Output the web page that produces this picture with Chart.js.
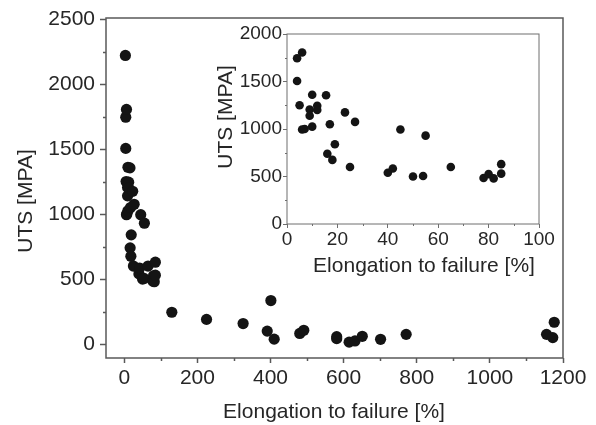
<!DOCTYPE html>
<html>
<head>
<meta charset="utf-8">
<script src="https://cdn.jsdelivr.net/npm/chart.js@4"></script>
<style>
  body { margin: 0; background: #fff; }
  #wrap { position: relative; width: 596px; height: 425px; }
  #main { position: absolute; left: 0; top: 0; }
  #inset { position: absolute; left: 200px; top: 20px; }
</style>
</head>
<body>
<div id="wrap">
  <canvas id="main" width="596" height="425"></canvas>
  <canvas id="inset" width="360" height="270"></canvas>
</div>
<script>
// samples below 100 % elongation (shown in both plots)
var lowElong = [4, 6, 4, 5, 6, 7, 10, 9, 9, 10, 12, 12, 15.5, 17, 16, 18, 19, 23, 27, 25, 40, 42, 45, 50, 54, 55, 65, 78, 80, 82, 85, 85]
var lowUts = [1745, 1805, 1505, 1250, 995, 1000, 1360, 1205, 1140, 1025, 1245, 1200, 1355, 1050, 740, 675, 840, 1175, 1075, 600, 540, 585, 995, 500, 505, 930, 600, 485, 525, 480, 530, 630]

// remaining samples, only in the full range plot
var highElong = [3, 130, 225, 325, 401, 391, 410, 480, 491, 581, 581, 615, 631, 651, 701, 771, 1155, 1172, 1176]
var highUts = [2220, 245, 190, 158, 335, 100, 38, 82, 106, 57, 42, 15, 24, 60, 37, 75, 75, 50, 168]

var mainXTicks = [0, 200, 400, 600, 800, 1000, 1200]
var mainYTicks = [0, 500, 1000, 1500, 2000, 2500]
var insetXTicks = [0, 20, 40, 60, 80, 100]
var insetYTicks = [0, 500, 1000, 1500, 2000]

var xLabel = 'Elongation to failure [%]'
var yLabel = 'UTS [MPA]'

var FONT = "'Liberation Sans', Arial, sans-serif"
var TEXT = '#262626'

function toPoints(xs, ys) {
    return xs.map(function (x, i) { return { x: x, y: ys[i] } })
}

// frame, minor ticks and axis titles
var decor = {
    id: 'decor',
    afterDraw: function (chart, args, opts) {
        var ctx = chart.ctx
        var a = chart.chartArea
        var xs = chart.scales.x
        var ys = chart.scales.y
        ctx.save()
        ctx.strokeStyle = opts.color
        ctx.lineWidth = opts.width

        // minor ticks halfway between the labelled ones
        ctx.beginPath()
        for (var i = 0; i < xs.ticks.length - 1; i++) {
            var px = Math.round(xs.getPixelForValue((xs.ticks[i].value + xs.ticks[i + 1].value) / 2)) + 0.5
            ctx.moveTo(px, a.bottom)
            ctx.lineTo(px, a.bottom + opts.minor)
        }
        for (var j = 0; j < ys.ticks.length - 1; j++) {
            var py = Math.round(ys.getPixelForValue((ys.ticks[j].value + ys.ticks[j + 1].value) / 2)) + 0.5
            ctx.moveTo(a.left, py)
            ctx.lineTo(a.left - opts.minor, py)
        }
        ctx.stroke()

        ctx.strokeRect(a.left, a.top, a.right - a.left, a.bottom - a.top)

        ctx.fillStyle = TEXT
        ctx.font = opts.titleSize + 'px ' + FONT
        ctx.textAlign = 'center'
        ctx.textBaseline = 'middle'
        ctx.fillText(xLabel, opts.xTitle[0], opts.xTitle[1])
        ctx.translate(opts.yTitle[0], opts.yTitle[1])
        ctx.rotate(-Math.PI / 2)
        ctx.fillText(yLabel, 0, 0)
        ctx.restore()
    }
}

function scale(min, max, ticks, size, fontSize, tickLen, pad, color, width) {
    return {
        type: 'linear',
        min: min,
        max: max,
        afterBuildTicks: function (s) { s.ticks = ticks.map(function (v) { return { value: v } }) },
        afterFit: function (s) {
            if (s.isHorizontal()) s.height = size
            else s.width = size
        },
        border: { display: false },
        grid: { drawOnChartArea: false, tickLength: tickLen, tickWidth: width, tickColor: color },
        ticks: {
            color: TEXT,
            padding: pad,
            autoSkip: false,
            maxRotation: 0,
            font: { family: FONT, size: fontSize },
            callback: function (v) { return String(v) }
        }
    }
}

new Chart(document.getElementById('main'), {
    type: 'scatter',
    data: {
        datasets: [{
            data: toPoints(lowElong, lowUts).concat(toPoints(highElong, highUts)),
            backgroundColor: '#141414',
            borderWidth: 0,
            pointRadius: 5.6
        }]
    },
    options: {
        responsive: false,
        animation: false,
        layout: { padding: { left: 0, top: 18, right: 33, bottom: 0 } },
        scales: {
            x: scale(-50, 1200, mainXTicks, 67, 21, 5, 3, '#595959', 1.5),
            y: scale(-107, 2508, mainYTicks, 106, 21, 6, 5, '#595959', 1.5)
        },
        plugins: {
            legend: { display: false },
            tooltip: { enabled: false },
            decor: { color: '#595959', width: 1.5, minor: 3, titleSize: 21, xTitle: [334, 412], yTitle: [26, 201] }
        }
    },
    plugins: [decor]
})

new Chart(document.getElementById('inset'), {
    type: 'scatter',
    data: {
        datasets: [{
            data: toPoints(lowElong, lowUts),
            backgroundColor: '#141414',
            borderWidth: 0,
            pointRadius: 4.3
        }]
    },
    options: {
        responsive: false,
        animation: false,
        layout: { padding: { left: 0, top: 14, right: 21, bottom: 0 } },
        scales: {
            x: scale(0, 100, insetXTicks, 66, 19, 4, 0, '#6e6e6e', 1),
            y: scale(0, 2000, insetYTicks, 87, 19, 4, 1, '#6e6e6e', 1)
        },
        plugins: {
            legend: { display: false },
            tooltip: { enabled: false },
            decor: { color: '#6e6e6e', width: 1, minor: 2, titleSize: 21, xTitle: [224, 246], yTitle: [26, 97] }
        }
    },
    plugins: [decor]
})
</script>
</body>
</html>
